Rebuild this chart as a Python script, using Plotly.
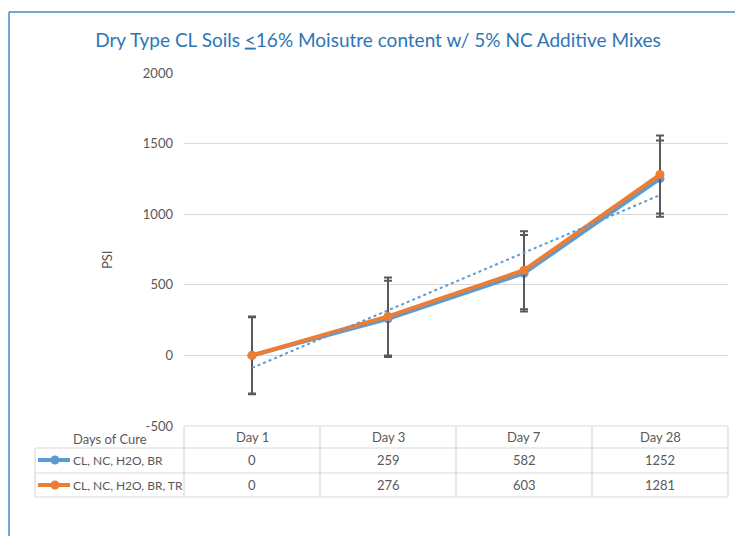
import numpy as np
import plotly.graph_objects as go

# ---- data ----
categories = ["Day 1", "Day 3", "Day 7", "Day 28"]
series_names = ["CL, NC, H2O, BR", "CL, NC, H2O, BR, TR"]
blue_vals = [0, 259, 582, 1252]
orange_vals = [0, 276, 603, 1281]
blue_err = [270.5, 270.5, 270.5, 270.5]
orange_err = [276, 276, 276, 276]
y_ticks = [-500, 0, 500, 1000, 1500, 2000]

BLUE = "#5B9BD5"
ORANGE = "#ED7D31"
GRAY = "#595959"
GRID = "#D9D9D9"
FONT = "Lato, Open Sans, sans-serif"

W, H = 735, 536
L, R, T, B = 184, 728, 73, 426  # plot area in pixels
PW, PH = R - L, B - T


def px(x):
    return (x - L) / PW


def py(y):
    return (B - y) / PH


# linear trendline of first series
xs = np.arange(1, len(blue_vals) + 1)
slope, intercept = np.polyfit(xs, blue_vals, 1)
trend = slope * xs + intercept

fig = go.Figure()
fig.add_trace(go.Scatter(
    x=categories, y=blue_vals, mode="lines+markers", name=series_names[0],
    line=dict(color=BLUE, width=4), marker=dict(size=9, color=BLUE),
    error_y=dict(type="data", array=blue_err, color=GRAY, thickness=2, width=4),
))
fig.add_trace(go.Scatter(
    x=categories, y=orange_vals, mode="lines+markers", name=series_names[1],
    line=dict(color=ORANGE, width=4), marker=dict(size=9, color=ORANGE),
    error_y=dict(type="data", array=orange_err, color=GRAY, thickness=2, width=4),
))
fig.add_trace(go.Scatter(
    x=categories, y=trend, mode="lines", name="Linear trend",
    line=dict(color=BLUE, width=2, dash="dot"), showlegend=False,
))

shapes = []
annotations = []

# table grid lines
line_style = dict(color=GRID, width=1.2)
shapes.append(dict(type="line", xref="paper", yref="paper",
                   x0=0, x1=1, y0=py(426), y1=py(426), line=line_style))
for yy in (448, 473, 497):
    shapes.append(dict(type="line", xref="paper", yref="paper",
                       x0=px(35), x1=1, y0=py(yy), y1=py(yy), line=line_style))
shapes.append(dict(type="line", xref="paper", yref="paper",
                   x0=px(35), x1=px(35), y0=py(448), y1=py(497), line=line_style))
for i in range(len(categories) + 1):
    xx = i / len(categories)
    shapes.append(dict(type="line", xref="paper", yref="paper",
                       x0=xx, x1=xx, y0=py(426), y1=py(497), line=line_style))

# header / values
row_y = [437, 460, 485]
for i, c in enumerate(categories):
    xc = (i + 0.5) / len(categories)
    for text, yy in ((c, row_y[0]), (str(blue_vals[i]), row_y[1]), (str(orange_vals[i]), row_y[2])):
        annotations.append(dict(x=xc, y=py(yy), xref="paper", yref="paper",
                                text=text, showarrow=False, xanchor="center",
                                yanchor="middle", font=dict(family=FONT, size=13, color=GRAY)))

annotations.append(dict(x=px(110), y=py(439), xref="paper", yref="paper",
                        text="Days of Cure", showarrow=False, xanchor="center",
                        yanchor="middle", font=dict(family=FONT, size=13, color=GRAY)))

# legend keys in table
for name, col, yy in ((series_names[0], BLUE, row_y[1]), (series_names[1], ORANGE, row_y[2])):
    shapes.append(dict(type="line", xref="paper", yref="paper",
                       x0=px(38), x1=px(70), y0=py(yy), y1=py(yy),
                       line=dict(color=col, width=4)))
    shapes.append(dict(type="circle", xref="paper", yref="paper",
                       x0=px(50.5), x1=px(59.5), y0=py(yy + 4.5), y1=py(yy - 4.5),
                       fillcolor=col, line=dict(color=col, width=0)))
    annotations.append(dict(x=px(71), y=py(yy), xref="paper", yref="paper",
                            text=name, showarrow=False, xanchor="left", yanchor="middle",
                            font=dict(family=FONT, size=12, color=GRAY)))

# PSI axis title
annotations.append(dict(x=px(107), y=py(260), xref="paper", yref="paper",
                        text="PSI", showarrow=False, textangle=-90,
                        xanchor="center", yanchor="middle",
                        font=dict(family=FONT, size=13, color=GRAY)))

# chart border (left + top)
border = dict(color="#4A86C8", width=1.5)
shapes.append(dict(type="line", xref="paper", yref="paper",
                   x0=px(9), x1=px(9), y0=py(12), y1=py(540), line=border))
shapes.append(dict(type="line", xref="paper", yref="paper",
                   x0=px(9), x1=px(740), y0=py(12), y1=py(12), line=border))

fig.update_layout(
    width=W, height=H,
    margin=dict(l=L, r=W - R, t=T, b=H - B, pad=0),
    paper_bgcolor="white", plot_bgcolor="white",
    showlegend=False,
    title=dict(
        text="Dry Type CL Soils <u>&lt;</u>16% Moisutre content w/ 5% NC Additive Mixes",
        x=378 / W, xref="container", xanchor="center",
        y=1 - 40 / H, yref="container", yanchor="middle",
        font=dict(family=FONT, size=19, color="#2E75B6"),
    ),
    xaxis=dict(type="category", range=[-0.5, len(categories) - 0.5],
               showticklabels=False, showgrid=False, zeroline=False,
               showline=False, ticks=""),
    yaxis=dict(range=[-500, 2000], tickvals=y_ticks, ticktext=[str(v) for v in y_ticks],
               showgrid=True, gridcolor=GRID,
               gridwidth=1.2, zeroline=False, showline=False, ticks="",
               ticklabelstandoff=10,
               tickfont=dict(family=FONT, size=13, color=GRAY)),
    shapes=shapes,
    annotations=annotations,
)

fig.write_html("out.html", config={"displayModeBar": False},
               post_script="document.body.style.margin='0';document.body.style.overflow='hidden';")
